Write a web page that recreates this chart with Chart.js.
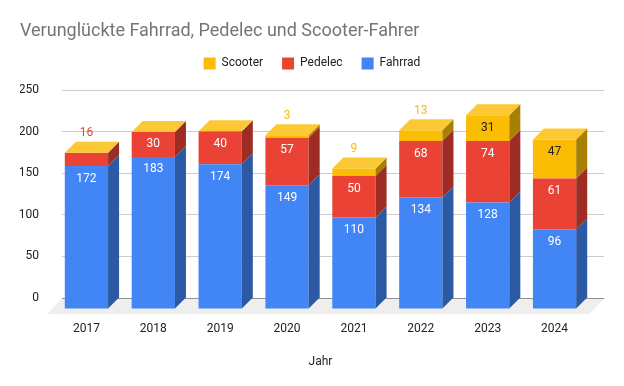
<!DOCTYPE html>
<html>
<head>
<meta charset="utf-8">
<script src="https://cdn.jsdelivr.net/npm/chart.js@4.4.0/dist/chart.umd.min.js"></script>
<style>
  body { margin: 0; background: #fff; }
  #wrap { width: 624px; height: 386px; }
</style>
</head>
<body>
<div id="wrap"><canvas id="accidentChart" width="624" height="386"></canvas></div>
<script>
// data
const years = ["2017", "2018", "2019", "2020", "2021", "2022", "2023", "2024"];
const fahrrad = [172, 183, 174, 149, 110, 134, 128, 96];
const pedelec = [16, 30, 40, 57, 50, 68, 74, 61];
const scooter = [0, 0, 0, 3, 9, 13, 31, 47];
const yStep = 50;
const yTop = 250;

// colours: front, side, top
const blue = ["#4285f4", "#2c59a3", "#6b9ff6"];
const red = ["#ea4335", "#9d2d24", "#ee6b5f"];
const yellow = ["#fbbc04", "#a87e03", "#fcc934"];

const DEPTH = 11;
Chart.defaults.font.family = "Roboto";

const floorAndShift = {
  id: "floorAndShift",
  afterLayout(chart) {
    // bars sit in front of the grid, so the category axis is moved left
    const x = chart.scales.x;
    const area = chart.chartArea;
    x.left = area.left - 9;
    x.right = area.right - 16;
    x.width = x.right - x.left;
    x.configure();
  },
  beforeDatasetsDraw(chart) {
    const { ctx, chartArea, scales } = chart;
    const y0 = scales.y.getPixelForValue(0);
    ctx.save();
    ctx.fillStyle = "#eeeeee";
    ctx.beginPath();
    ctx.moveTo(chartArea.left, y0 + 0.5);
    ctx.lineTo(chartArea.right, y0 + 0.5);
    ctx.lineTo(chartArea.right - 15, y0 + 16);
    ctx.lineTo(chartArea.left - 15, y0 + 16);
    ctx.closePath();
    ctx.fill();
    ctx.restore();

    ctx.save();
    ctx.translate(0, DEPTH);
  },
  afterDatasetsDraw(chart) {
    const ctx = chart.ctx;
    const sets = chart.data.datasets;
    const metas = sets.map((d, i) => chart.getDatasetMeta(i));

    years.forEach((year, i) => {
      metas.forEach((meta, d) => {
        const bar = meta.data[i].getProps(["x", "y", "base", "width"], true);
        if (bar.base - bar.y <= 0) return;
        const r = bar.x + bar.width / 2;
        ctx.fillStyle = sets[d].sideColor;
        ctx.beginPath();
        ctx.moveTo(r, bar.y);
        ctx.lineTo(r + DEPTH, bar.y - DEPTH);
        ctx.lineTo(r + DEPTH, bar.base - DEPTH);
        ctx.lineTo(r, bar.base);
        ctx.closePath();
        ctx.fill();
      });
      const last = sets.length - 1;
      const top = metas[last].data[i].getProps(["x", "y", "width"], true);
      const l = top.x - top.width / 2;
      const r = top.x + top.width / 2;
      ctx.fillStyle = sets[last].topColor;
      ctx.beginPath();
      ctx.moveTo(l, top.y);
      ctx.lineTo(l + DEPTH, top.y - DEPTH);
      ctx.lineTo(r + DEPTH, top.y - DEPTH);
      ctx.lineTo(r, top.y);
      ctx.closePath();
      ctx.fill();
    });

    // value labels
    ctx.font = "12px Roboto";
    ctx.textAlign = "center";
    ctx.textBaseline = "middle";
    years.forEach((year, i) => {
      const stackTop = metas[sets.length - 1].data[i].getProps(["y"], true).y;
      metas.forEach((meta, d) => {
        const value = sets[d].data[i];
        if (!value) return;
        const bar = meta.data[i].getProps(["x", "y", "base"], true);
        if (bar.base - bar.y >= 18) {
          ctx.fillStyle = sets[d].labelColor;
          ctx.fillText(value, bar.x, bar.y + 12.5);
        } else {
          ctx.fillStyle = sets[d].backgroundColor;
          ctx.fillText(value, bar.x, stackTop - 19.5);
        }
      });
    });
    ctx.restore();
  },
};

new Chart(document.getElementById("accidentChart"), {
  type: "bar",
  data: {
    labels: years,
    datasets: [
      { label: "Fahrrad", data: fahrrad, backgroundColor: blue[0], sideColor: blue[1], topColor: blue[2], labelColor: "#ffffff" },
      { label: "Pedelec", data: pedelec, backgroundColor: red[0], sideColor: red[1], topColor: red[2], labelColor: "#ffffff" },
      { label: "Scooter", data: scooter, backgroundColor: yellow[0], sideColor: yellow[1], topColor: yellow[2], labelColor: "#222222" },
    ],
  },
  options: {
    responsive: false,
    animation: false,
    datasets: {
      bar: { barPercentage: 0.647, categoryPercentage: 1, borderWidth: 0, clip: false },
    },
    layout: { padding: { top: 24, left: 20, right: 20, bottom: 0 } },
    scales: {
      x: {
        stacked: true,
        grid: { display: false, drawTicks: false },
        border: { display: false },
        ticks: { color: "#222", font: { size: 12 }, padding: 24 },
        title: { display: true, text: "Jahr", color: "#222", font: { size: 12 }, padding: { top: 4, bottom: 17 } },
        afterFit(scale) { scale.height = 88; },
      },
      y: {
        stacked: true,
        min: 0,
        max: 263,
        grid: {
          drawTicks: false,
          color: (c) => (c.tick && c.tick.value === 0 ? "#333333" : "#cccccc"),
        },
        border: { display: false },
        ticks: { stepSize: yStep, includeBounds: false, color: "#222", font: { size: 12 }, padding: 23 },
        afterBuildTicks(scale) { scale.ticks = scale.ticks.filter((t) => t.value <= yTop); },
        afterFit(scale) { scale.width = 42; },
      },
    },
    plugins: {
      title: {
        display: true,
        text: "Verunglückte Fahrrad, Pedelec und Scooter-Fahrer",
        align: "start",
        color: "#757575",
        font: { size: 18, weight: "normal", lineHeight: 0.8 },
        padding: 0,
      },
      legend: {
        reverse: true,
        labels: { boxWidth: 12, boxHeight: 12, padding: 19, color: "#222", font: { size: 12 } },
      },
      tooltip: { enabled: false },
    },
  },
  plugins: [floorAndShift],
});
</script>
</body>
</html>
